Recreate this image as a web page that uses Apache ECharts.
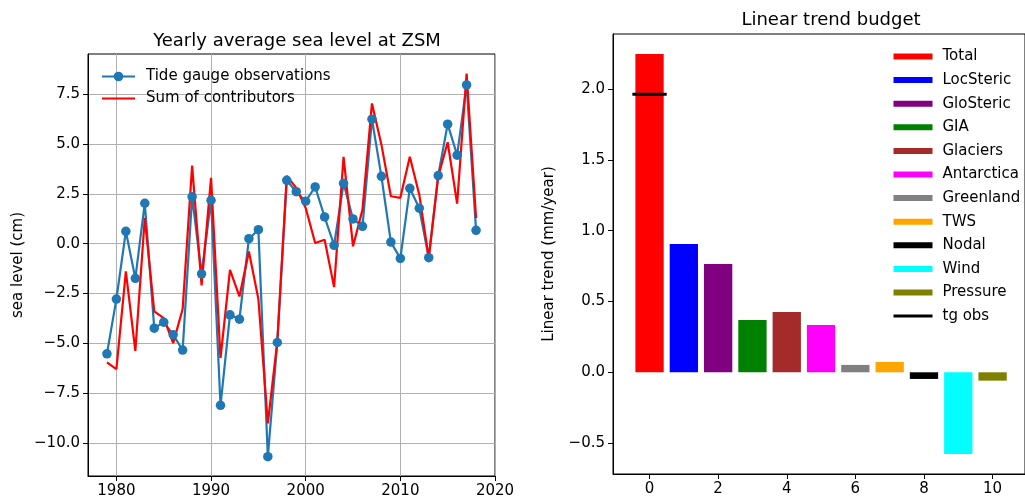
<!DOCTYPE html>
<html><head><meta charset="utf-8">
<script src="https://cdn.jsdelivr.net/npm/echarts@6/dist/echarts.min.js"></script>
<style>html,body{margin:0;padding:0;background:#fff}#c{width:1025px;height:499px}</style>
</head><body><div id="c"></div>
<script>
// ---- data ----
const years = [1979,1980,1981,1982,1983,1984,1985,1986,1987,1988,1989,1990,1991,1992,1993,1994,1995,1996,1997,1998,1999,2000,2001,2002,2003,2004,2005,2006,2007,2008,2009,2010,2011,2012,2013,2014,2015,2016,2017,2018];
const tideGauge = [-5.53,-2.78,0.62,-1.74,2.03,-4.24,-3.94,-4.57,-5.34,2.35,-1.51,2.18,-8.11,-3.57,-3.79,0.25,0.70,-10.69,-4.96,3.18,2.61,2.13,2.85,1.34,-0.08,3.03,1.24,0.87,6.25,3.38,0.08,-0.74,2.78,1.78,-0.70,3.42,6.00,4.44,7.97,0.67];
const sumContributors = [-5.96,-6.30,-1.39,-5.38,1.29,-3.40,-3.74,-4.99,-3.28,3.92,-2.09,3.30,-5.74,-1.31,-2.65,-0.39,-2.78,-9.02,-4.90,3.40,2.80,1.79,0.03,0.20,-2.18,4.36,-0.13,1.71,7.04,4.97,2.38,2.30,4.36,2.46,-0.72,3.38,5.09,2.01,8.54,1.29];
const budgetNames = ['Total','LocSteric','GloSteric','GIA','Glaciers','Antarctica','Greenland','TWS','Nodal','Wind','Pressure'];
const budgetValues = [2.247,0.906,0.765,0.369,0.426,0.334,0.052,0.073,-0.047,-0.577,-0.059];
const tgObsValue = 1.963;
const tgObsSpan = [-0.5, 0.5];
const leftXTicks = [1980,1990,2000,2010,2020];
const leftYTicks = [-10,-7.5,-5,-2.5,0,2.5,5,7.5];
const rightXTicks = [0,2,4,6,8,10];
const rightYTicks = [-0.5,0,0.5,1,1.5,2];

// ---- styles ----
const budgetColors = ['#ff0000','#0000ff','#800080','#008000','#a52a2a','#ff00ff','#808080','#ffa500','#000000','#00ffff','#808000'];
const FONT = 'DejaVu Sans';
const fmt1 = v => v.toFixed(1).replace('-', '\u2212');

const chart = echarts.init(document.getElementById('c'), null, {renderer: 'canvas'});

function valAxis(extra) {
  return Object.assign({
    type: 'value',
    axisLine: {show: true, onZero: false, lineStyle: {color: '#000', width: 1}},
    axisTick: {show: true, length: 5, lineStyle: {color: '#000', width: 1}},
    axisLabel: {color: '#000', fontSize: 15, fontFamily: FONT, margin: 8},
    nameTextStyle: {color: '#000', fontSize: 15, fontFamily: FONT},
    splitLine: {show: false}
  }, extra);
}

const series = [
  {
    name: 'Tide gauge observations', type: 'line', xAxisIndex: 0, yAxisIndex: 0,
    data: years.map((y, i) => [y, tideGauge[i]]),
    symbol: 'circle', symbolSize: 9.5, showSymbol: true,
    itemStyle: {color: '#1f77b4'}, lineStyle: {color: '#1f77b4', width: 2.2},
    animation: false
  },
  {
    name: 'Sum of contributors', type: 'line', xAxisIndex: 0, yAxisIndex: 0,
    data: years.map((y, i) => [y, sumContributors[i]]),
    symbol: 'none', showSymbol: false,
    itemStyle: {color: '#ff0000'}, lineStyle: {color: '#ff0000', width: 2.2},
    animation: false
  }
];
budgetNames.forEach((n, i) => {
  series.push({
    name: n, type: 'bar', xAxisIndex: 1, yAxisIndex: 1,
    data: [[i, budgetValues[i]]], barWidth: 28.3, barGap: '-100%',
    itemStyle: {color: budgetColors[i]}, animation: false
  });
});
series.push({
  name: 'tg obs', type: 'line', xAxisIndex: 1, yAxisIndex: 1,
  data: [[tgObsSpan[0], tgObsValue], [tgObsSpan[1], tgObsValue]],
  symbol: 'none', showSymbol: false, z: 5,
  itemStyle: {color: '#000'}, lineStyle: {color: '#000', width: 3},
  animation: false
});

chart.setOption({
  animation: false,
  textStyle: {fontFamily: FONT},
  title: [
    {text: 'Yearly average sea level at ZSM', left: 292, top: 27, textAlign: 'center',
     textStyle: {fontFamily: FONT, fontSize: 18, fontWeight: 'normal', color: '#000'}},
    {text: 'Linear trend budget', left: 826, top: 6, textAlign: 'center',
     textStyle: {fontFamily: FONT, fontSize: 18, fontWeight: 'normal', color: '#000'}}
  ],
  grid: [
    {left: 88, top: 54, width: 407, height: 422, show: true, borderColor: '#000', borderWidth: 1, containLabel: false},
    {left: 613, top: 34, width: 425, height: 440, show: true, borderColor: '#000', borderWidth: 1, containLabel: false}
  ],
  xAxis: [
    valAxis({gridIndex: 0, min: 1977.0, max: 2020.0,
      axisTick: {show: true, length: 5, customValues: leftXTicks, lineStyle: {color: '#000', width: 1}},
      axisLabel: {color: '#000', fontSize: 15, fontFamily: FONT, margin: 8, customValues: leftXTicks, formatter: v => String(v)},
      splitLine: {show: true, lineStyle: {color: '#b0b0b0', width: 1}}}),
    valAxis({gridIndex: 1, min: -1.065, max: 10.945,
      axisTick: {show: true, length: 5, customValues: rightXTicks, lineStyle: {color: '#000', width: 1}},
      axisLabel: {color: '#000', fontSize: 15, fontFamily: FONT, margin: 8, customValues: rightXTicks, formatter: v => String(v)}})
  ],
  yAxis: [
    valAxis({gridIndex: 0, min: -11.66, max: 9.52,
      name: 'sea level (cm)', nameLocation: 'middle', nameGap: 62, nameRotate: 90,
      axisTick: {show: true, length: 5, customValues: leftYTicks, lineStyle: {color: '#000', width: 1}},
      axisLabel: {color: '#000', fontSize: 15, fontFamily: FONT, margin: 8, customValues: leftYTicks, formatter: fmt1},
      splitLine: {show: true, lineStyle: {color: '#b0b0b0', width: 1}}}),
    valAxis({gridIndex: 1, min: -0.718, max: 2.388,
      name: 'Linear trend (mm/year)', nameLocation: 'middle', nameGap: 56, nameRotate: 90,
      axisTick: {show: true, length: 5, customValues: rightYTicks, lineStyle: {color: '#000', width: 1}},
      axisLabel: {color: '#000', fontSize: 15, fontFamily: FONT, margin: 8, customValues: rightYTicks, formatter: fmt1}})
  ],
  legend: [
    {data: [{name: 'Tide gauge observations'}, {name: 'Sum of contributors', itemStyle: {opacity: 0}}], orient: 'vertical',
     left: 96, top: 64, itemWidth: 33, itemHeight: 12, itemGap: 7,
     textStyle: {fontFamily: FONT, fontSize: 15, color: '#000', padding: [0, 0, 0, 6]},
     selectedMode: false},
    {data: budgetNames.map(n => ({name: n, icon: 'rect'})).concat([{name: 'tg obs', itemStyle: {opacity: 0}, lineStyle: {width: 3, color: '#000'}}]), orient: 'vertical',
     left: 887, top: 44, itemWidth: 39, itemHeight: 6, itemGap: 8.6,
     textStyle: {fontFamily: FONT, fontSize: 15, color: '#000', padding: [0, 0, 0, 5]},
     selectedMode: false}
  ],
  series: series
});
</script></body></html>
